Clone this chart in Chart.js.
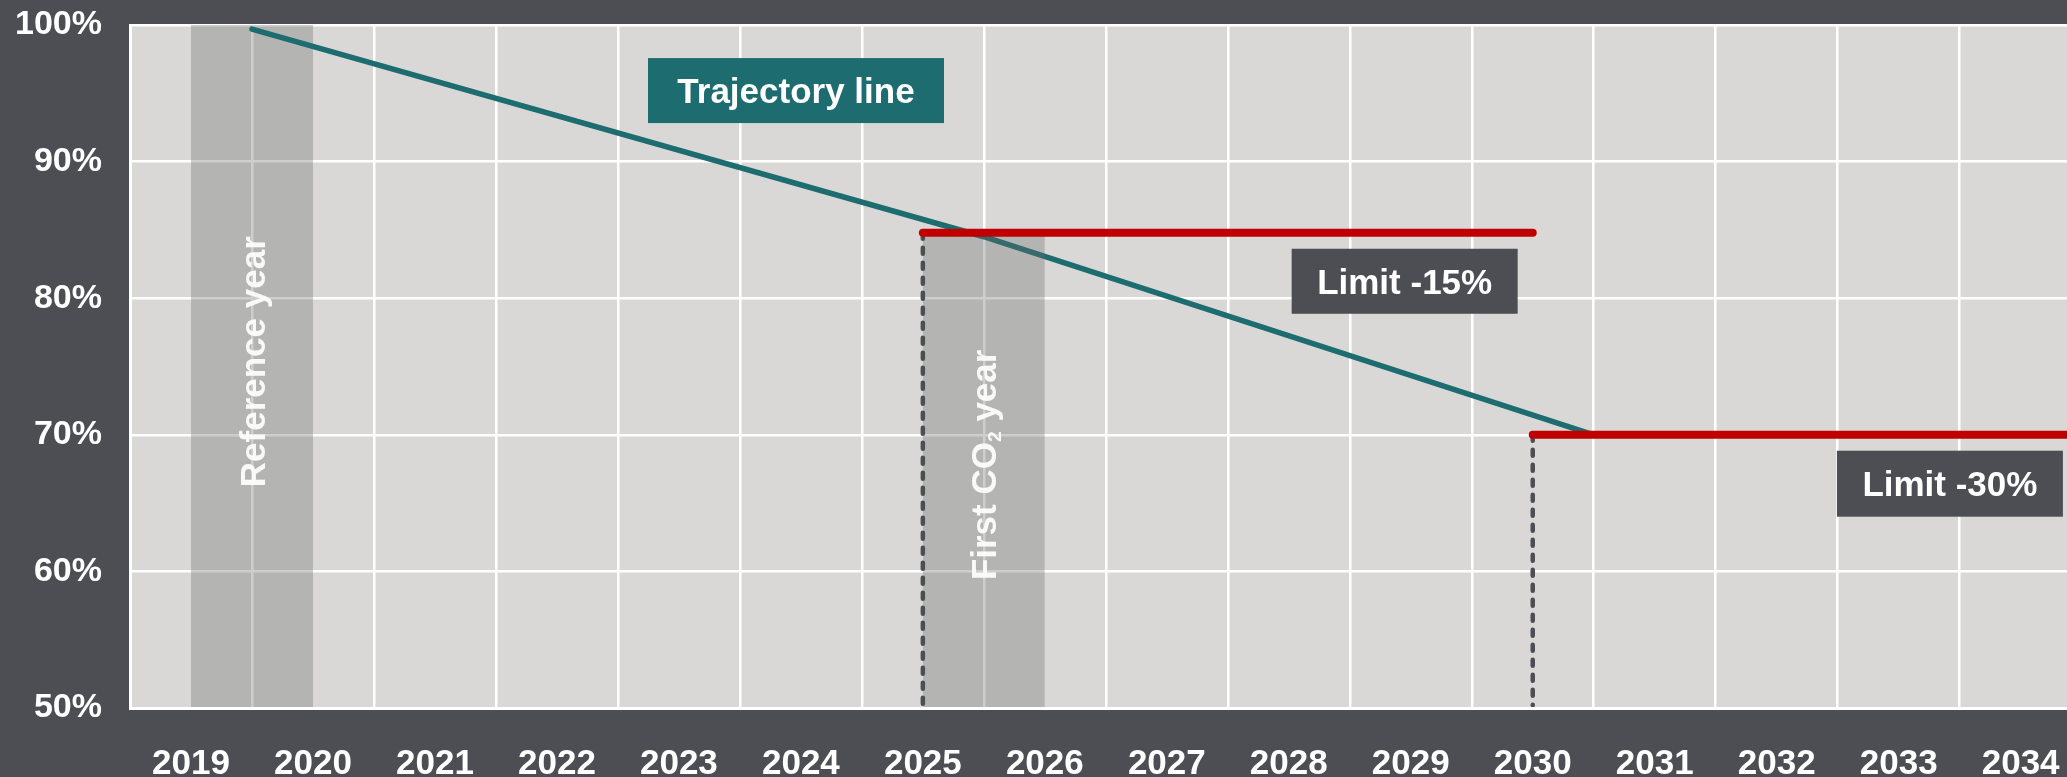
<!DOCTYPE html>
<html>
<head>
<meta charset="utf-8">
<script src="https://cdn.jsdelivr.net/npm/chart.js@4.4.1/dist/chart.umd.min.js"></script>
<style>
  html, body { margin: 0; padding: 0; background: #4d4e54; }
  #wrap { width: 2067px; height: 777px; }
</style>
</head>
<body>
<div id="wrap"><canvas id="chart" width="2067" height="777"></canvas></div>
<script>
// chart values
const years = [2019, 2020, 2021, 2022, 2023, 2024, 2025, 2026, 2027, 2028, 2029, 2030, 2031, 2032, 2033, 2034];
const yTicks = [50, 60, 70, 80, 90, 100];

const trajectoryYears = [2019.5, 2025.5, 2030.5];
const trajectoryValues = [99.7, 84.5, 70];

const limit15Years = [2025, 2030];
const limit15Values = [84.8, 84.8];
const limit30Years = [2030, 2035];
const limit30Values = [70, 70];

const referenceYears = [2019, 2020];
const referenceValues = [100, 100];
const firstCo2Years = [2025, 2026];
const firstCo2Values = [84.8, 84.8];

const drop2025Years = [2025, 2025];
const drop2025Values = [84.8, 50.2];
const drop2030Years = [2030, 2030];
const drop2030Values = [70, 50.2];

const colors = {
    page: "#4d4e54",
    plot: "#d9d8d6",
    teal: "#1d6c6f",
    red: "#c00000",
    band: "rgba(105, 105, 105, 0.33)",
    dash: "#4d4e54",
    white: "#ffffff",
};
const FONT = "'Liberation Sans', Arial, sans-serif";

const toPoints = (xs, ys) => xs.map((x, i) => ({ x: x, y: ys[i] }));

const bandSet = (xs, ys, order) => ({
    data: toPoints(xs, ys),
    borderWidth: 0,
    pointRadius: 0,
    backgroundColor: colors.band,
    fill: "start",
    order: order,
});

const lineSet = (xs, ys, color, width, order, dash) => ({
    data: toPoints(xs, ys),
    borderColor: color,
    borderWidth: width,
    borderCapStyle: "round",
    borderDash: dash || [],
    pointRadius: 0,
    fill: false,
    tension: 0,
    order: order,
});

// backgrounds behind the plot
const backgroundPlugin = {
    id: "backgrounds",
    beforeDraw(chart) {
        const { ctx, chartArea } = chart;
        ctx.save();
        ctx.fillStyle = colors.page;
        ctx.fillRect(0, 0, chart.width, chart.height);
        ctx.fillStyle = colors.plot;
        ctx.fillRect(chartArea.left, chartArea.top, chartArea.right - chartArea.left, chartArea.bottom - chartArea.top);
        ctx.restore();
    },
};

// text boxes and rotated band captions, placed with the chart scales
const notesPlugin = {
    id: "notes",
    afterDatasetsDraw(chart, args, opts) {
        const { ctx, scales } = chart;
        const xs = scales.x, ys = scales.y;
        ctx.save();
        opts.boxes.forEach((b) => {
            const cx = xs.getPixelForValue(b.x);
            const cy = ys.getPixelForValue(b.y);
            ctx.fillStyle = b.bg;
            ctx.fillRect(cx - b.w / 2, cy - b.h / 2, b.w, b.h);
            ctx.font = "bold " + b.size + "px " + FONT;
            ctx.fillStyle = colors.white;
            ctx.textAlign = "center";
            ctx.textBaseline = "alphabetic";
            ctx.fillText(b.text, cx, cy + b.size * 0.716 / 2);
        });
        opts.captions.forEach((c) => {
            const cx = xs.getPixelForValue(c.x);
            const cy = ys.getPixelForValue(c.y);
            ctx.save();
            ctx.translate(cx, cy);
            ctx.rotate(-Math.PI / 2);
            ctx.fillStyle = "rgba(255,255,255,0.92)";
            ctx.textAlign = "left";
            ctx.textBaseline = "alphabetic";
            let total = 0;
            const parts = c.parts.map((p) => {
                const size = p.sub ? c.size * 0.55 : c.size;
                ctx.font = "bold " + size + "px " + FONT;
                const w = ctx.measureText(p.text).width;
                total += w;
                return { text: p.text, size: size, w: w, sub: p.sub };
            });
            let x = -total / 2;
            const base = c.size * 0.716 / 2;
            parts.forEach((p) => {
                ctx.font = "bold " + p.size + "px " + FONT;
                ctx.fillText(p.text, x, p.sub ? base + c.size * 0.12 : base);
                x += p.w;
            });
            ctx.restore();
        });
        ctx.restore();
    },
};

new Chart(document.getElementById("chart"), {
    type: "line",
    data: {
        datasets: [
            bandSet(referenceYears, referenceValues, 10),
            lineSet(trajectoryYears, trajectoryValues, colors.teal, 5.5, 9),
            bandSet(firstCo2Years, firstCo2Values, 8),
            lineSet(drop2025Years, drop2025Values, colors.dash, 4.5, 7, [6, 9]),
            lineSet(drop2030Years, drop2030Values, colors.dash, 4.5, 7, [6, 9]),
            lineSet(limit15Years, limit15Values, colors.red, 8, 6),
            lineSet(limit30Years, limit30Values, colors.red, 8, 6),
        ],
    },
    options: {
        responsive: false,
        animation: false,
        events: [],
        layout: { padding: { top: 25, right: 0, left: 0, bottom: 0 } },
        plugins: {
            legend: { display: false },
            tooltip: { enabled: false },
            notes: {
                boxes: [
                    { text: "Trajectory line", x: 2023.96, y: 95.2, w: 296, h: 65, size: 35, bg: colors.teal },
                    { text: "Limit -15%", x: 2028.95, y: 81.24, w: 226, h: 65, size: 35, bg: colors.page },
                    { text: "Limit -30%", x: 2033.42, y: 66.42, w: 226, h: 66, size: 35, bg: colors.page },
                ],
                captions: [
                    { parts: [{ text: "Reference year" }], x: 2019.5, y: 75.35, size: 35 },
                    { parts: [{ text: "First CO" }, { text: "2", sub: true }, { text: " year" }], x: 2025.5, y: 67.8, size: 35 },
                ],
            },
        },
        scales: {
            x: {
                type: "linear",
                min: 2018.5,
                max: 2034.38,
                afterBuildTicks: (scale) => {
                    scale.ticks = years.map((v) => ({ value: v }));
                },
                afterFit: (scale) => {
                    scale.height = 69;
                    scale.paddingLeft = 0;
                    scale.paddingRight = 0;
                },
                grid: { color: colors.white, lineWidth: 2.5, offset: true, drawTicks: false },
                border: { color: colors.white, width: 3, z: 1 },
                ticks: {
                    color: colors.white,
                    padding: 35,
                    maxRotation: 0,
                    autoSkip: false,
                    font: { family: FONT, size: 35, weight: "bold" },
                    callback: (v) => String(v),
                },
            },
            y: {
                min: 50,
                max: 100,
                afterBuildTicks: (scale) => {
                    scale.ticks = yTicks.map((v) => ({ value: v }));
                },
                afterFit: (scale) => {
                    scale.width = 130;
                    scale.paddingTop = 0;
                    scale.paddingBottom = 0;
                },
                grid: { color: colors.white, lineWidth: 2.5, drawTicks: false },
                border: { color: colors.white, width: 3 },
                ticks: {
                    color: colors.white,
                    padding: 28,
                    font: { family: FONT, size: 34, weight: "bold" },
                    callback: (v) => v + "%",
                },
            },
        },
    },
    plugins: [backgroundPlugin, notesPlugin],
});
</script>
</body>
</html>
